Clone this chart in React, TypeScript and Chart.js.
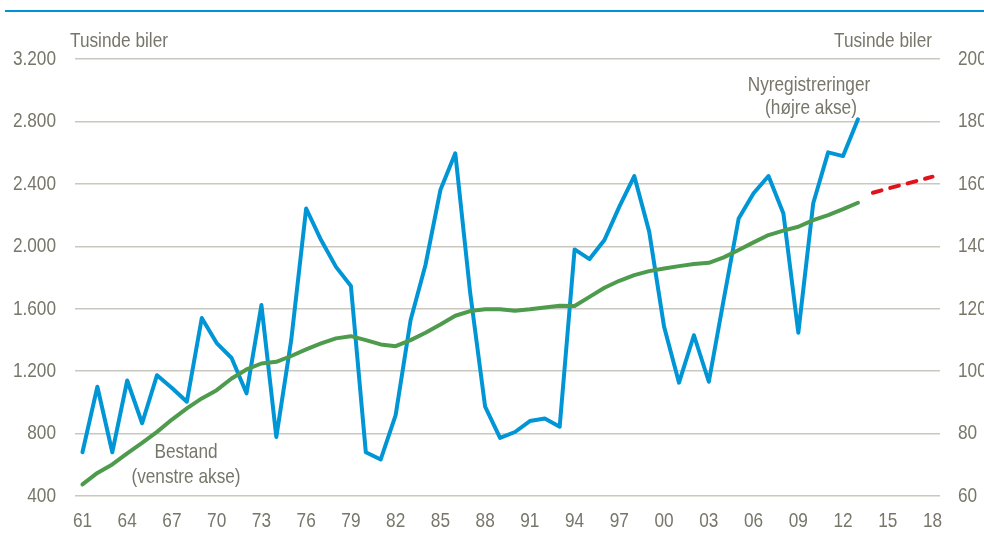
import React, { useEffect, useRef } from "react";
import { Chart, registerables } from "chart.js";

Chart.register(...registerables);

const yearLabels = [
  "61", "62", "63", "64", "65", "66", "67", "68", "69", "70",
  "71", "72", "73", "74", "75", "76", "77", "78", "79", "80",
  "81", "82", "83", "84", "85", "86", "87", "88", "89", "90",
  "91", "92", "93", "94", "95", "96", "97", "98", "99", "00",
  "01", "02", "03", "04", "05", "06", "07", "08", "09", "10",
  "11", "12", "13", "14", "15", "16", "17", "18",
];

// Nyregistreringer, tusinde biler (højre akse), 1961-2013
const nyregistreringer = [
  74, 95, 74, 97, 83.3, 98.7, 94.6, 90.2, 117, 109,
  104.2, 92.9, 121.2, 78.9, 110, 152.1, 142, 133.4, 127.3, 74,
  71.7, 85.9, 116.3, 134, 158, 169.8, 125, 88.6, 78.6, 80.5,
  84, 84.8, 82.2, 139, 135.9, 142, 152.7, 162.5, 144.7, 114.2,
  96.3, 111.5, 96.6, 123, 148.9, 157, 162.5, 150.5, 112.3, 153.8,
  170.1, 168.9, 180.7,
];

// Bestand, tusinde biler (venstre akse), 1961-2013
const bestand = [
  474, 548, 602, 673, 740, 811, 890, 961, 1025, 1078,
  1153, 1211, 1249, 1260, 1297, 1339, 1378, 1410, 1424, 1399,
  1371, 1360, 1399, 1446, 1499, 1555, 1585, 1596, 1597, 1587,
  1596, 1608, 1619, 1617, 1676, 1734, 1779, 1815, 1841, 1858,
  1873, 1886, 1894, 1929, 1976, 2025, 2072, 2100, 2125, 2168,
  2200, 2238, 2279,
];

// Fremskrivning af bestand, 2014-2018
const prognose = [2343, 2370, 2395, 2420, 2446];

const leftTicks = [400, 800, 1200, 1600, 2000, 2400, 2800, 3200];
const rightTicks = [60, 80, 100, 120, 140, 160, 180, 200];

const FONT = '"Liberation Sans", Arial, sans-serif';
const TEXT = "#77766a";
const GRID = "#cac8be";
const NARROW = 0.82;

function fmt(v: number) {
  return String(v).replace(/\B(?=(\d{3})+(?!\d))/g, ".");
}

function narrowText(ctx: CanvasRenderingContext2D, text: string, x: number, y: number, align: CanvasTextAlign) {
  ctx.save();
  ctx.translate(x, y);
  ctx.scale(NARROW, 1);
  ctx.textAlign = align;
  ctx.fillText(text, 0, 0);
  ctx.restore();
}

const textPlugin = {
  id: "texts",
  afterDraw(chart: any) {
    const ctx = chart.ctx as CanvasRenderingContext2D;
    const { x, y, y1 } = chart.scales;
    ctx.save();
    ctx.fillStyle = TEXT;
    ctx.font = `21px ${FONT}`;
    ctx.textBaseline = "middle";

    // axis tick labels
    leftTicks.forEach((v) => narrowText(ctx, fmt(v), x.left - 19, y.getPixelForValue(v), "right"));
    rightTicks.forEach((v) => narrowText(ctx, String(v), x.right + 18, y1.getPixelForValue(v), "left"));
    yearLabels.forEach((lab, i) => {
      if (i % 3 === 0) narrowText(ctx, lab, x.getPixelForValue(i), 521, "center");
    });

    // annotations
    narrowText(ctx, "Tusinde biler", 70, 41.5, "left");
    narrowText(ctx, "Tusinde biler", 932, 41.5, "right");
    narrowText(ctx, "Nyregistreringer", 809, 85, "center");
    narrowText(ctx, "(højre akse)", 811, 108, "center");
    narrowText(ctx, "Bestand", 186, 452, "center");
    narrowText(ctx, "(venstre akse)", 186, 477, "center");
    ctx.restore();
  },
};

export default function App() {
  const ref = useRef<HTMLCanvasElement>(null);

  useEffect(() => {
    if (!ref.current) return;
    const blue = yearLabels.map((_, i) => (i < nyregistreringer.length ? nyregistreringer[i] : null));
    const green = yearLabels.map((_, i) => (i < bestand.length ? bestand[i] : null));
    const red = yearLabels.map((_, i) => {
      const k = i - bestand.length;
      return k >= 0 && k < prognose.length ? prognose[k] : null;
    });

    const chart = new Chart(ref.current, {
      type: "line",
      data: {
        labels: yearLabels,
        datasets: [
          {
            label: "Bestand",
            data: green,
            yAxisID: "y",
            borderColor: "#4e9b4e",
            borderWidth: 4,
            pointRadius: 0,
            tension: 0,
            borderJoinStyle: "round",
            borderCapStyle: "round",
          },
          {
            label: "Prognose",
            data: red,
            yAxisID: "y",
            borderColor: "#e3111b",
            borderWidth: 4,
            borderDash: [9, 9],
            borderCapStyle: "round",
            pointRadius: 0,
            tension: 0,
          },
          {
            label: "Nyregistreringer",
            data: blue,
            yAxisID: "y1",
            borderColor: "#0096d6",
            borderWidth: 4,
            pointRadius: 0,
            tension: 0,
            borderJoinStyle: "round",
            borderCapStyle: "round",
          },
        ],
      },
      options: {
        animation: false,
        responsive: false,
        events: [],
        layout: { padding: { left: 0, right: 0, top: 59, bottom: 0 } },
        plugins: {
          legend: { display: false },
          tooltip: { enabled: false },
          title: { display: false },
        },
        scales: {
          x: {
            type: "category",
            offset: true,
            border: { display: false },
            grid: { display: false, drawTicks: false },
            afterFit: (s: any) => {
              s.height = 46;
            },
            ticks: { display: false, autoSkip: false },
          },
          y: {
            position: "left",
            min: leftTicks[0],
            max: leftTicks[leftTicks.length - 1],
            border: { display: false },
            grid: { color: GRID, lineWidth: 1.5, drawTicks: false },
            afterFit: (s: any) => {
              s.width = 75;
            },
            afterBuildTicks: (s: any) => {
              s.ticks = leftTicks.map((v) => ({ value: v }));
            },
            ticks: { display: false },
          },
          y1: {
            position: "right",
            min: rightTicks[0],
            max: rightTicks[rightTicks.length - 1],
            border: { display: false },
            grid: { display: false, drawTicks: false },
            afterFit: (s: any) => {
              s.width = 60;
            },
            afterBuildTicks: (s: any) => {
              s.ticks = rightTicks.map((v) => ({ value: v }));
            },
            ticks: { display: false },
          },
        },
      },
      plugins: [textPlugin],
    });
    return () => chart.destroy();
  }, []);

  return (
    <div
      style={{
        position: "absolute",
        left: 0,
        top: 0,
        width: 984,
        height: 542,
        overflow: "hidden",
        background: "#fff",
      }}
    >
      <div
        style={{
          position: "absolute",
          left: 5,
          top: 10,
          width: 979,
          height: 2,
          background: "#0092d4",
        }}
      />
      <canvas
        ref={ref}
        width={1000}
        height={542}
        style={{ position: "absolute", left: 0, top: 0, display: "block" }}
      />
    </div>
  );
}
